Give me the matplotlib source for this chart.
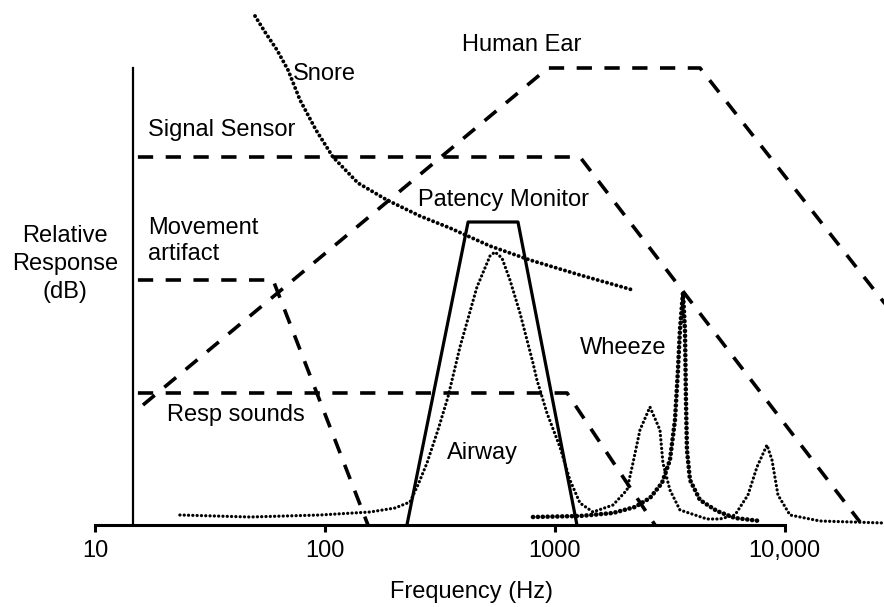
"""
Relative response of sensors and sounds against frequency, patent-figure style.
"""
import matplotlib
matplotlib.use('Agg')
import matplotlib.pyplot as plt

plt.rcParams['font.family'] = ['Liberation Sans', 'DejaVu Sans']
plt.rcParams['lines.scale_dashes'] = False

# frequency in Hz, relative response in dB (arbitrary reference)
ear_f = [16.1, 933, 4285, 31600]
ear_db = [12.0, 45.7, 45.7, 20.3]

sensor_f = [15.3, 1286, 21300]
sensor_db = [36.8, 36.8, 0.3]

movement_f = [15.3, 59.3, 153.6]
movement_db = [24.5, 24.5, 0.0]

resp_f = [15.3, 1130, 2729]
resp_db = [13.2, 13.2, 0.0]

patency_f = [227, 419, 691, 1248]
patency_db = [0.0, 30.3, 30.3, 0.0]

snore_f = [49.5, 54.7, 61.7, 68.9, 77.7, 91.2, 108.1, 138.9, 185.8, 258.6,
           349.4, 521.9, 778.9, 1286, 2188]
snore_db = [50.9, 49.3, 47.5, 45.5, 42.5, 39.5, 36.8, 34.2, 32.5, 30.9,
            29.7, 27.9, 26.5, 25.0, 23.5]

airway_f = [23.3, 47.1, 94.9, 156.7, 201.4, 234.0, 253.5, 277.5, 309.8, 342.5,
            386.3, 458.0, 521.9, 548.7, 588.4, 637.6, 704.9, 803.1, 835.7,
            923.8, 1052, 1163, 1286, 1465, 1791, 2060, 2188, 2347, 2594, 2868,
            2955, 3170, 3504, 4594, 5233, 6084, 6929, 7585, 8384, 8817, 9361,
            10556, 14260, 27080]
airway_db = [1.0, 0.8, 1.0, 1.3, 1.7, 2.3, 4.0, 6.2, 9.5, 12.8,
             17.8, 23.8, 26.9, 27.3, 26.7, 24.5, 21.2, 16.2, 14.5,
             11.2, 7.8, 4.5, 2.2, 1.3, 2.0, 3.5, 6.2, 9.5, 11.8, 9.5,
             6.2, 3.5, 1.5, 0.6, 0.6, 1.0, 3.0, 5.8, 8.0, 6.5, 3.0,
             1.0, 0.4, 0.2]

wheeze_f = [803.1, 1286, 1791, 2232, 2594, 2926, 3170, 3334, 3435, 3504,
            3612, 3685, 3722, 3759, 3875, 4282, 5078, 6084, 7815]
wheeze_db = [0.8, 0.9, 1.2, 1.8, 2.7, 4.2, 6.5, 10.5, 15.5, 19.5,
             23.2, 19.5, 12.5, 7.5, 4.5, 2.5, 1.4, 0.7, 0.4]

ticks = [10, 100, 1000, 10000]
tick_labels = ['10', '100', '1000', '10,000']

fig = plt.figure(figsize=(8.84, 6.07), dpi=100)
ax = fig.add_axes([0, 0, 1, 1])
ax.set_xscale('log')
ax.set_xlim(3.84, 27100)
ax.set_ylim(-8.2, 52.5)

dash = dict(color='black', lw=2.6, dashes=(11, 9), dash_capstyle='butt')
ax.plot(ear_f, ear_db, **dash)
ax.plot(sensor_f, sensor_db, **dash)
ax.plot(movement_f, movement_db, **dash)
ax.plot(resp_f, resp_db, **dash)

ax.plot(patency_f, patency_db, color='black', lw=2.3)

# dotted curves: tiny dashes with round caps give round dots
ax.plot(snore_f, snore_db, color='black', lw=2.8, dashes=(0.1, 3.4),
        dash_capstyle='round')
ax.plot(airway_f, airway_db, color='black', lw=2.3, dashes=(0.1, 3.0),
        dash_capstyle='round')
ax.plot(wheeze_f, wheeze_db, color='black', lw=3.3, dashes=(0.1, 3.4),
        dash_capstyle='round')

# axes drawn as spines: y axis sits at ~14.6 Hz
for side in ('top', 'right'):
    ax.spines[side].set_visible(False)
ax.spines['bottom'].set_position(('data', 0))
ax.spines['bottom'].set_bounds(10, 10000)
ax.spines['bottom'].set_linewidth(2.2)
ax.spines['left'].set_position(('data', 14.6))
ax.spines['left'].set_bounds(0, 45.7)
ax.spines['left'].set_linewidth(1.6)

ax.set_xticks(ticks)
ax.set_xticklabels(tick_labels)
ax.xaxis.set_minor_locator(matplotlib.ticker.NullLocator())
ax.tick_params(axis='x', direction='out', length=5, width=2.2, pad=6,
               labelsize=17)
ax.set_yticks([])

fs = 17
ax.text(72.4, 45.1, 'Snore', fontsize=fs, va='center')
ax.text(394, 48.0, 'Human Ear', fontsize=fs, va='center')
ax.text(16.9, 39.5, 'Signal Sensor', fontsize=fs, va='center')
ax.text(253.5, 32.5, 'Patency Monitor', fontsize=fs, va='center')
ax.text(16.9, 28.4, 'Movement\nartifact', fontsize=fs, va='center',
        linespacing=1.2)
ax.text(7.36, 26.1, 'Relative\nResponse\n(dB)', fontsize=fs, va='center',
        ha='center', linespacing=1.35)
ax.text(20.5, 11.0, 'Resp sounds', fontsize=fs, va='center')
ax.text(339, 7.2, 'Airway', fontsize=fs, va='center')
ax.text(1286, 17.7, 'Wheeze', fontsize=fs, va='center')
ax.text(435.5, -6.7, 'Frequency (Hz)', fontsize=fs, va='center', ha='center')

fig.savefig('out.png', dpi=100)
